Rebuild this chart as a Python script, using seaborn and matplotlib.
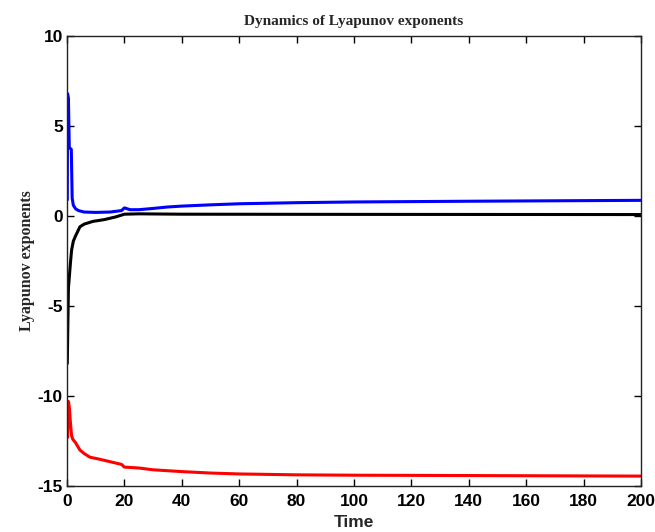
import matplotlib
matplotlib.use("Agg")
import matplotlib.pyplot as plt
from matplotlib import font_manager
import seaborn as sns
import pandas as pd

# ---- data ----
t_blue = [0.1, 0.2, 0.5, 0.8, 1.5, 1.8, 2.2, 3, 4, 6, 10, 15, 19, 20, 22, 25, 30, 35, 40, 50, 60, 80, 100, 140, 200]
y_blue = [0.9, 6.8, 6.5, 3.8, 3.7, 1.0, 0.6, 0.4, 0.3, 0.22, 0.2, 0.22, 0.3, 0.45, 0.35, 0.35, 0.42, 0.5, 0.55, 0.62, 0.68, 0.74, 0.78, 0.82, 0.87]

t_black = [0.1, 0.3, 0.5, 0.8, 1.2, 1.6, 2.2, 3, 4.5, 6, 9, 13, 17, 20, 25, 40, 100, 200]
y_black = [-8.2, -6.0, -4.0, -3.4, -2.6, -1.9, -1.4, -1.1, -0.6, -0.45, -0.3, -0.2, -0.05, 0.1, 0.12, 0.1, 0.09, 0.08]

t_red = [0.2, 0.5, 0.8, 1.2, 1.6, 2, 3, 4.5, 6, 8, 11, 15, 19, 20, 25, 30, 40, 50, 60, 80, 100, 140, 200]
y_red = [-12.3, -10.3, -10.6, -11.5, -12.2, -12.4, -12.6, -13.0, -13.2, -13.4, -13.5, -13.65, -13.8, -13.95, -14.0, -14.1, -14.2, -14.28, -14.33, -14.38, -14.4, -14.42, -14.45]

x_ticks = [0, 20, 40, 60, 80, 100, 120, 140, 160, 180, 200]
y_ticks = [-15, -10, -5, 0, 5, 10]

title = "Dynamics of Lyapunov exponents"
xlabel = "Time"
ylabel = "Lyapunov exponents"

sns.set_theme(style="white")

names = {f.name for f in font_manager.fontManager.ttflist}
narrow = "Liberation Sans Narrow" if "Liberation Sans Narrow" in names else "Liberation Sans"
plt.rcParams["font.family"] = [narrow, "DejaVu Sans"]

fig = plt.figure(figsize=(6.55, 5.32), dpi=100)
ax = fig.add_axes([67 / 655, (532 - 486) / 532, (641 - 67) / 655, 450 / 532])

df_b = pd.DataFrame({"t": t_blue, "v": y_blue})
df_k = pd.DataFrame({"t": t_black, "v": y_black})
df_r = pd.DataFrame({"t": t_red, "v": y_red})

lw = 2.2
sns.lineplot(data=df_b, x="t", y="v", ax=ax, color="#0000ff", linewidth=lw, estimator=None)
sns.lineplot(data=df_k, x="t", y="v", ax=ax, color="#000000", linewidth=lw, estimator=None)
sns.lineplot(data=df_r, x="t", y="v", ax=ax, color="#ff0000", linewidth=lw, estimator=None)

ax.set_xlim(0, 200)
ax.set_ylim(-15, 10)
ax.set_xticks(x_ticks)
ax.set_yticks(y_ticks)
ax.set_xticklabels([str(v) for v in x_ticks], fontweight="bold", fontsize=12.5)
ax.set_yticklabels([str(v) for v in y_ticks], fontweight="bold", fontsize=12.5)
ax.tick_params(direction="in", length=5, width=1, top=True, right=True, bottom=True, left=True,
               colors="black")
ax.tick_params(axis="x", pad=6)
ax.tick_params(axis="y", pad=3)

for s in ax.spines.values():
    s.set_visible(True)
    s.set_color("#222222")
    s.set_linewidth(1.0)

ax.set_xlabel(xlabel, fontweight="bold", fontsize=12.5, labelpad=4)
ax.set_ylabel(ylabel, fontweight="bold", fontsize=11.5, family=["Liberation Serif", "DejaVu Serif"], labelpad=2)
ax.set_title(title, fontweight="bold", fontsize=11, family=["Liberation Serif", "DejaVu Serif"], pad=8)

fig.savefig("out.png", dpi=100, facecolor="white")
